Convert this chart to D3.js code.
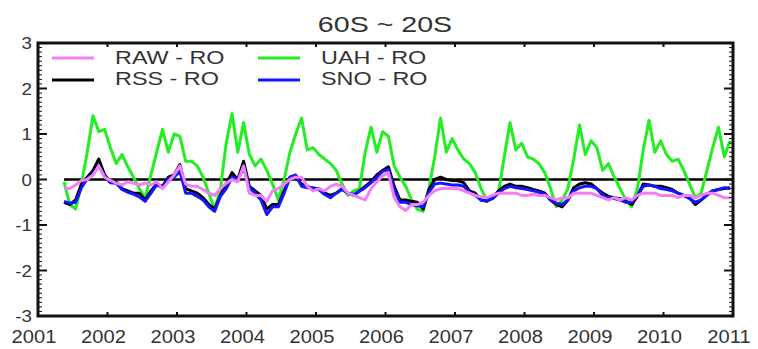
<!DOCTYPE html>
<html>
<head>
<meta charset="utf-8">
<script src="https://cdn.jsdelivr.net/npm/d3@7"></script>
<style>
body { margin: 0; background: #fff; }
text { font-family: "Liberation Sans", Arial, sans-serif; fill: #333; }
</style>
</head>
<body>
<div id="chart"></div>
<script>
// monthly series, first value is May 2001 (month index 4 from Jan 2001)
var startMonth = 4;

var uahRo = [-0.05, -0.55, -0.65, -0.1, 0.6, 1.4, 1.05, 1.1, 0.7, 0.35, 0.55, 0.28,
    0.05, -0.2, -0.4, 0.1, 0.6, 1.1, 0.6, 1.0, 0.95, 0.4, 0.4, 0.3,
    0.05, -0.3, -0.65, -0.2, 0.8, 1.45, 0.6, 1.25, 0.55, 0.3, 0.45, 0.2,
    -0.1, -0.45, 0.0, 0.6, 1.0, 1.35, 0.65, 0.7, 0.55, 0.45, 0.35, 0.2,
    -0.1, -0.35, -0.25, -0.2, 0.6, 1.15, 0.6, 1.05, 0.95, 0.3, 0.05, -0.15,
    -0.45, -0.65, -0.7, -0.2, 0.5, 1.35, 0.6, 0.9, 0.65, 0.45, 0.35, 0.15,
    -0.2, -0.45, -0.4, -0.3, 0.5, 1.25, 0.65, 0.8, 0.5, 0.45, 0.35, 0.15,
    -0.2, -0.6, -0.45, -0.2, 0.45, 1.2, 0.55, 0.85, 0.7, 0.2, 0.35, 0.05,
    -0.2, -0.45, -0.6, -0.2, 0.65, 1.3, 0.6, 0.85, 0.55, 0.4, 0.45, 0.2,
    -0.1, -0.4, -0.3, 0.2, 0.7, 1.15, 0.5, 0.85];

var rssRo = [-0.5, -0.55, -0.45, -0.1, 0.05, 0.2, 0.45, 0.1, -0.05, -0.05, -0.2, -0.25,
    -0.3, -0.3, -0.45, -0.25, -0.1, -0.15, 0.05, 0.1, 0.33, -0.2, -0.25, -0.3,
    -0.4, -0.55, -0.65, -0.35, -0.1, 0.15, 0.0, 0.4, -0.15, -0.25, -0.35, -0.65,
    -0.55, -0.55, -0.25, 0.05, 0.05, -0.1, -0.15, -0.2, -0.2, -0.3, -0.35, -0.3,
    -0.2, -0.3, -0.35, -0.25, -0.15, -0.05, 0.1, 0.2, 0.28, -0.15, -0.45, -0.45,
    -0.48, -0.5, -0.65, -0.22, 0.0, 0.05, 0.0, -0.02, -0.03, -0.07, -0.25, -0.3,
    -0.45, -0.48, -0.4, -0.25, -0.15, -0.1, -0.15, -0.15, -0.18, -0.22, -0.25, -0.3,
    -0.45, -0.55, -0.6, -0.45, -0.18, -0.1, -0.07, -0.1, -0.2, -0.3, -0.37, -0.4,
    -0.42, -0.48, -0.55, -0.37, -0.1, -0.12, -0.15, -0.15, -0.18, -0.22, -0.3, -0.35,
    -0.4, -0.55, -0.45, -0.33, -0.25, -0.22, -0.2, -0.18];

var snoRo = [-0.48, -0.52, -0.5, -0.18, 0.02, 0.12, 0.3, 0.07, -0.07, -0.08, -0.22, -0.28,
    -0.32, -0.38, -0.48, -0.3, -0.12, -0.18, 0.02, 0.05, 0.18, -0.3, -0.3, -0.37,
    -0.45, -0.6, -0.7, -0.37, -0.2, 0.05, 0.0, 0.26, -0.18, -0.3, -0.45, -0.77,
    -0.6, -0.6, -0.3, 0.05, 0.1, -0.15, -0.18, -0.18, -0.22, -0.33, -0.4, -0.3,
    -0.22, -0.3, -0.33, -0.26, -0.18, -0.07, 0.05, 0.18, 0.22, -0.22, -0.5, -0.5,
    -0.55, -0.58, -0.6, -0.28, -0.1, -0.08, -0.1, -0.12, -0.12, -0.15, -0.28, -0.35,
    -0.45, -0.47, -0.42, -0.3, -0.2, -0.15, -0.18, -0.2, -0.22, -0.25, -0.28, -0.32,
    -0.45, -0.52, -0.55, -0.45, -0.25, -0.18, -0.15, -0.15, -0.2, -0.35, -0.4, -0.42,
    -0.45, -0.5, -0.5, -0.35, -0.15, -0.12, -0.15, -0.2, -0.22, -0.25, -0.3, -0.35,
    -0.42, -0.5, -0.45, -0.35, -0.25, -0.22, -0.18, -0.2];

var rawRo = [-0.2, -0.2, -0.12, -0.02, 0.0, 0.1, 0.3, 0.05, -0.02, -0.08, -0.12, -0.05,
    -0.08, -0.12, -0.08, -0.12, -0.05, -0.2, -0.05, 0.1, 0.3, -0.1, -0.15, -0.15,
    -0.22, -0.3, -0.35, -0.2, -0.08, 0.0, -0.05, 0.3, -0.3, -0.35, -0.35, -0.48,
    -0.25, -0.2, -0.1, 0.0, 0.05, 0.05, -0.15, -0.25, -0.2, -0.25, -0.15, -0.1,
    -0.15, -0.3, -0.35, -0.4, -0.45, -0.2, -0.05, 0.08, 0.15, -0.4, -0.6, -0.68,
    -0.55, -0.55, -0.5, -0.35, -0.25, -0.2, -0.2, -0.2, -0.2, -0.25, -0.3, -0.35,
    -0.38, -0.4, -0.35, -0.3, -0.3, -0.3, -0.3, -0.35, -0.35, -0.32, -0.35, -0.35,
    -0.4, -0.45, -0.4, -0.4, -0.3, -0.3, -0.3, -0.3, -0.35, -0.4, -0.45, -0.4,
    -0.45, -0.4, -0.45, -0.35, -0.3, -0.3, -0.3, -0.35, -0.35, -0.35, -0.4, -0.35,
    -0.35, -0.4, -0.35, -0.3, -0.3, -0.35, -0.4, -0.4];

var xTickLabels = [2001, 2002, 2003, 2004, 2005, 2006, 2007, 2008, 2009, 2010, 2011];
var yTickLabels = [-3, -2, -1, 0, 1, 2, 3];

var seriesNames = ["RAW - RO", "RSS - RO", "UAH - RO", "SNO - RO"];
var seriesColors = ["#f47ef4", "#000000", "#22ee22", "#1515ff"];

var width = 758,
    height = 349;

var svg = d3.select("#chart").append("svg")
    .attr("width", width)
    .attr("height", height);

var x = d3.scaleLinear().domain([2001, 2011]).range([38, 733]);
var y = d3.scaleLinear().domain([-3, 3]).range([316, 43]);

var months = rawRo.map(function (d, i) {
    return 2001 + (startMonth + i + 0.5) / 12;
});

function stretchedText(parent, px, py, str, size, sx, anchor) {
    return parent.append("text")
        .attr("transform", "translate(" + px + "," + py + ") scale(" + sx + ",1)")
        .attr("text-anchor", anchor)
        .style("font-size", size + "px")
        .text(str);
}

// title
stretchedText(svg, 385, 32, "60S ~ 20S", 22, 1.3, "middle");

var line = d3.line()
    .x(function (d) { return x(d[0]); })
    .y(function (d) { return y(d[1]); });

var plot = svg.append("g");

// zero reference line
plot.append("path")
    .datum([[months[0], 0], [2011, 0]])
    .attr("d", line)
    .attr("fill", "none")
    .attr("stroke", "#000")
    .attr("stroke-width", 2.5);

function drawSeries(values, color) {
    plot.append("path")
        .datum(values.map(function (v, i) { return [months[i], v]; }))
        .attr("d", line)
        .attr("fill", "none")
        .attr("stroke", color)
        .attr("stroke-width", 3)
        .attr("stroke-linejoin", "round");
}

drawSeries(uahRo, seriesColors[2]);
drawSeries(rssRo, seriesColors[1]);
drawSeries(snoRo, seriesColors[3]);
drawSeries(rawRo, seriesColors[0]);

// frame and ticks
var axes = svg.append("g").attr("stroke", "#111");

axes.append("rect")
    .attr("x", x(2001))
    .attr("y", y(3))
    .attr("width", x(2011) - x(2001))
    .attr("height", y(-3) - y(3))
    .attr("fill", "none")
    .attr("stroke-width", 3);

var minorY = y.ticks(60);
minorY.forEach(function (v) {
    var major = Math.abs(v - Math.round(v)) < 1e-6;
    var len = major ? 9 : 4;
    axes.append("line")
        .attr("x1", x(2001)).attr("x2", x(2001) + len)
        .attr("y1", y(v)).attr("y2", y(v))
        .attr("stroke-width", major ? 2 : 1);
    axes.append("line")
        .attr("x1", x(2011)).attr("x2", x(2011) - len)
        .attr("y1", y(v)).attr("y2", y(v))
        .attr("stroke-width", major ? 2 : 1);
});

xTickLabels.forEach(function (yr) {
    axes.append("line")
        .attr("x1", x(yr)).attr("x2", x(yr))
        .attr("y1", y(-3)).attr("y2", y(-3) - 4)
        .attr("stroke-width", 2);
    axes.append("line")
        .attr("x1", x(yr)).attr("x2", x(yr))
        .attr("y1", y(3)).attr("y2", y(3) + 4)
        .attr("stroke-width", 2);
});

var labels = svg.append("g");

xTickLabels.forEach(function (yr) {
    stretchedText(labels, x(yr) - 4, 343, String(yr), 18, 1.12, "middle");
});

yTickLabels.forEach(function (v) {
    stretchedText(labels, 32, y(v) + 6, String(v), 17, 1.1, "end");
});

// legend, two columns
var legendPos = [
    {lx: 52, ty: 64, ly: 58},
    {lx: 52, ty: 85, ly: 80},
    {lx: 258, ty: 64, ly: 58},
    {lx: 258, ty: 85, ly: 80}
];

var legend = svg.append("g");
seriesNames.forEach(function (name, i) {
    var p = legendPos[i];
    legend.append("line")
        .attr("x1", p.lx).attr("x2", p.lx + 42)
        .attr("y1", p.ly).attr("y2", p.ly)
        .attr("stroke", seriesColors[i])
        .attr("stroke-width", 3);
    stretchedText(legend, p.lx + 63, p.ty, name, 18, 1.3, "start");
});
</script>
</body>
</html>
